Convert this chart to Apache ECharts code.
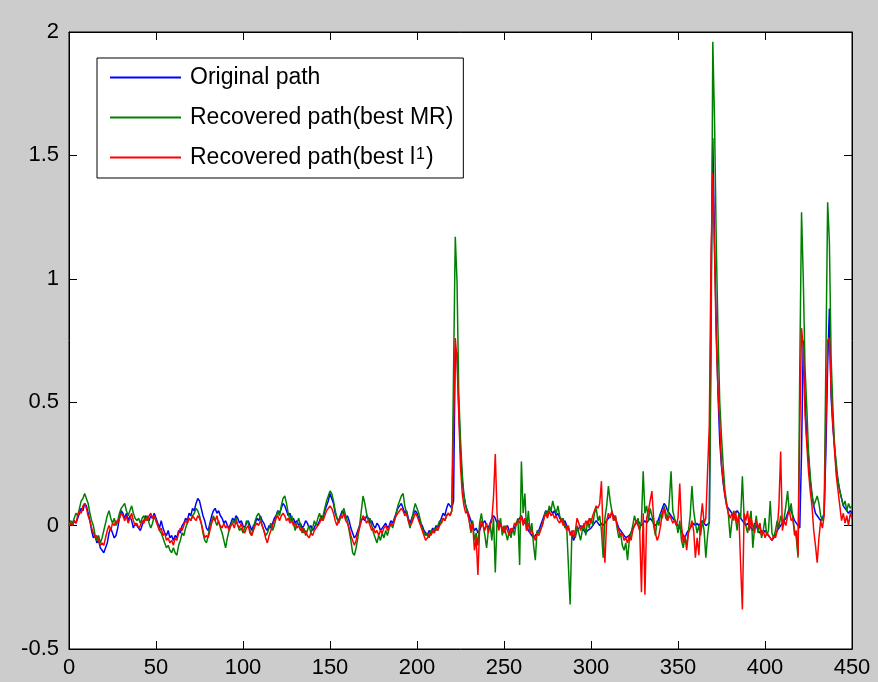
<!DOCTYPE html>
<html>
<head>
<meta charset="utf-8">
<title>Original and recovered paths</title>
<script src="https://cdn.jsdelivr.net/npm/echarts@6/dist/echarts.min.js"></script>
<style>
  html, body { margin: 0; padding: 0; background: #cccccc; }
  #chart { width: 878px; height: 682px; }
</style>
</head>
<body>
<div id="chart"></div>
<script>
// Sample values, one per step (step index = position on the x axis, 0..450)
const originalPath = [
  0.00,0.01,0.00,0.02,0.01,0.03,0.05,0.07,0.06,0.09,
  0.08,0.05,0.02,-0.02,-0.05,-0.04,-0.07,-0.06,-0.09,-0.10,
  -0.11,-0.09,-0.07,-0.03,-0.01,-0.03,-0.05,-0.04,-0.01,0.03,
  0.06,0.05,0.03,0.05,0.02,0.04,0.02,-0.01,0.01,0.00,
  -0.01,-0.02,0.00,0.02,0.04,0.03,0.02,0.04,0.03,0.05,
  0.03,0.01,-0.01,0.02,-0.01,-0.03,-0.04,-0.02,-0.05,-0.04,
  -0.06,-0.04,-0.05,-0.02,-0.03,0.00,0.01,0.03,0.02,0.05,
  0.04,0.07,0.06,0.09,0.11,0.10,0.07,0.04,0.02,-0.01,
  -0.02,0.01,0.04,0.06,0.07,0.05,0.06,0.04,0.03,0.01,
  0.02,0.00,-0.01,0.01,0.03,0.02,0.04,0.03,0.01,0.02,
  0.00,-0.01,0.01,0.02,0.00,-0.02,0.00,0.01,0.03,0.02,
  0.04,0.02,0.01,-0.01,-0.02,0.00,-0.01,0.01,0.03,0.04,
  0.06,0.05,0.07,0.09,0.08,0.06,0.04,0.05,0.02,0.03,
  0.01,0.02,0.00,0.01,-0.01,0.00,0.02,0.01,-0.01,0.00,
  -0.02,-0.01,0.01,0.00,0.02,0.04,0.03,0.06,0.08,0.10,
  0.13,0.11,0.09,0.05,0.03,0.02,0.04,0.06,0.05,0.03,
  0.04,0.02,-0.01,-0.03,-0.05,-0.04,-0.02,0.00,0.02,0.03,
  0.02,0.04,0.03,0.01,0.02,0.00,-0.01,0.01,0.00,-0.02,
  -0.01,0.00,0.01,-0.01,0.00,0.02,0.01,0.03,0.05,0.07,
  0.08,0.09,0.07,0.05,0.06,0.03,0.01,0.03,0.05,0.06,
  0.05,0.03,0.01,0.00,-0.02,-0.03,-0.04,-0.02,-0.03,-0.01,
  -0.02,0.00,-0.01,0.01,0.03,0.05,0.04,0.07,0.09,0.08,
  0.07,0.10,0.72,0.70,0.48,0.30,0.18,0.12,0.08,0.06,
  0.04,0.02,0.00,-0.02,-0.01,-0.03,-0.02,0.00,0.01,0.02,
  0.00,-0.01,0.01,0.03,0.04,0.03,0.01,0.02,0.00,-0.01,
  -0.02,-0.01,0.00,-0.02,-0.03,-0.02,-0.01,0.01,0.02,0.03,
  0.04,0.02,0.01,0.00,-0.02,-0.03,-0.04,-0.05,-0.04,-0.03,
  -0.02,0.00,0.02,0.04,0.06,0.05,0.07,0.06,0.05,0.06,
  0.04,0.05,0.03,0.02,0.01,0.02,0.00,-0.01,-0.03,-0.04,
  -0.06,-0.04,-0.02,-0.01,0.00,-0.01,-0.02,-0.03,-0.02,-0.02,
  -0.01,0.00,0.01,0.02,0.01,0.00,0.01,0.00,0.01,0.02,
  0.03,0.04,0.05,0.05,0.03,0.01,-0.01,-0.02,-0.03,-0.04,
  -0.05,-0.05,-0.04,-0.03,-0.01,0.00,0.01,0.02,0.01,0.00,
  0.01,0.02,0.01,0.02,0.03,0.02,0.01,0.00,0.01,0.03,
  0.05,0.07,0.09,0.08,0.06,0.05,0.04,0.03,0.02,0.01,
  0.00,-0.01,-0.02,-0.04,-0.05,-0.03,-0.02,-0.01,0.00,0.01,
  0.00,0.01,0.00,0.01,0.02,0.01,0.00,0.00,0.01,0.95,
  1.57,1.15,0.80,0.53,0.34,0.24,0.17,0.12,0.08,0.07,
  0.06,0.05,0.04,0.05,0.06,0.05,0.03,0.02,0.01,0.00,
  0.01,0.00,-0.01,-0.02,0.01,0.00,-0.02,-0.03,-0.02,-0.03,
  -0.02,-0.03,-0.04,-0.05,-0.06,-0.05,-0.04,-0.02,-0.02,0.00,
  0.01,0.02,0.03,0.05,0.07,0.06,0.04,0.02,0.01,0.00,
  -0.01,0.30,0.75,0.52,0.35,0.28,0.18,0.12,0.08,0.05,
  0.04,0.03,0.02,0.03,0.05,0.30,0.65,0.88,0.52,0.40,
  0.32,0.22,0.18,0.14,0.11,0.08,0.07,0.06,0.05,0.06,
  0.05
];

const recoveredMR = [
  0.00,0.02,0.01,0.03,0.05,0.04,0.07,0.10,0.11,0.13,
  0.13,0.09,0.05,0.02,0.00,-0.04,-0.06,-0.04,-0.07,-0.05,
  -0.02,0.01,0.04,0.06,0.03,0.01,0.03,0.00,0.02,0.05,
  0.07,0.08,0.09,0.06,0.04,0.06,0.08,0.05,0.03,0.02,
  0.03,0.01,0.03,0.04,0.02,0.04,0.01,-0.01,0.01,0.04,
  0.02,0.00,-0.02,-0.03,-0.05,-0.07,-0.09,-0.08,-0.10,-0.11,
  -0.09,-0.11,-0.12,-0.08,-0.06,-0.03,-0.04,-0.01,0.01,0.03,
  0.02,0.04,0.05,0.07,0.06,0.04,0.01,-0.03,-0.06,-0.07,
  -0.04,0.00,0.02,0.04,0.02,0.00,0.02,-0.01,-0.03,-0.06,
  -0.09,-0.05,-0.02,0.00,0.02,0.01,0.03,0.00,-0.02,-0.01,
  -0.03,-0.01,0.02,0.01,-0.02,-0.04,-0.01,0.02,0.04,0.05,
  0.03,0.00,-0.02,-0.04,-0.03,-0.01,0.01,-0.02,0.00,0.03,
  0.06,0.04,0.08,0.11,0.12,0.09,0.05,0.02,0.04,0.01,
  -0.02,0.01,0.03,0.00,-0.03,-0.01,-0.04,-0.02,0.00,-0.03,
  -0.01,0.02,0.00,0.03,0.05,0.02,0.04,0.07,0.10,0.12,
  0.14,0.13,0.10,0.06,0.03,0.01,0.03,0.05,0.07,0.04,
  0.02,-0.02,-0.06,-0.11,-0.12,-0.09,-0.05,0.00,0.06,0.12,
  0.09,0.05,0.02,0.03,0.00,-0.03,-0.05,-0.07,-0.04,-0.06,
  -0.03,-0.05,-0.02,-0.04,-0.01,0.01,-0.01,0.02,0.05,0.08,
  0.10,0.12,0.13,0.08,0.05,0.02,-0.01,0.02,0.06,0.09,
  0.09,0.05,0.02,-0.01,-0.03,-0.04,-0.03,-0.05,-0.02,-0.03,
  -0.01,-0.02,0.00,0.02,0.01,0.03,0.02,0.04,0.05,0.04,
  0.06,0.62,1.17,0.99,0.53,0.35,0.21,0.12,0.08,0.05,
  0.02,-0.03,0.02,-0.06,-0.03,-0.08,0.01,0.05,0.00,-0.04,
  -0.09,-0.02,0.01,-0.06,0.03,-0.19,0.02,-0.01,0.03,-0.04,
  0.00,-0.03,-0.06,-0.02,-0.05,-0.01,-0.04,0.01,0.03,-0.16,
  0.26,0.05,0.13,-0.02,0.06,-0.03,0.01,-0.08,-0.14,-0.02,
  -0.03,-0.01,0.00,0.03,0.06,0.04,0.08,0.06,0.10,0.07,
  0.05,0.08,0.04,0.02,0.03,-0.01,0.00,-0.16,-0.32,-0.03,
  -0.02,-0.05,0.00,-0.03,-0.06,-0.02,0.01,-0.04,0.02,-0.01,
  0.03,0.00,0.05,0.07,0.02,0.04,-0.02,-0.13,0.03,0.08,
  0.16,0.10,0.06,0.02,0.04,-0.01,-0.05,-0.03,-0.08,-0.10,
  -0.07,-0.14,-0.06,-0.03,0.00,0.04,0.01,0.03,-0.02,0.02,
  0.22,0.05,0.08,0.02,0.07,0.04,0.00,-0.04,0.02,0.00,
  0.05,0.03,0.08,0.05,0.02,0.10,0.22,0.06,0.03,0.01,
  -0.03,0.02,-0.06,-0.09,-0.05,-0.08,-0.02,0.04,0.16,0.06,
  0.01,-0.03,0.00,-0.04,0.02,-0.02,-0.13,-0.04,0.02,0.68,
  1.96,1.64,1.14,0.78,0.50,0.36,0.24,0.14,0.09,0.04,
  -0.05,0.02,0.06,0.03,-0.02,0.05,0.03,0.20,0.03,0.00,
  -0.03,0.02,0.06,-0.09,-0.01,0.04,-0.03,0.01,-0.05,-0.02,
  0.03,-0.04,-0.02,0.10,-0.03,-0.05,-0.02,0.02,-0.01,0.04,
  0.01,0.03,0.08,0.14,0.05,0.09,0.03,-0.02,-0.05,-0.13,
  0.65,1.27,1.00,0.64,0.48,0.30,0.20,0.13,0.08,0.10,
  0.12,0.09,0.04,0.02,0.05,0.68,1.31,1.15,0.68,0.48,
  0.32,0.25,0.18,0.14,0.11,0.08,0.10,0.06,0.09,0.07,
  0.08
];

const recoveredL1 = [
  0.00,0.01,0.00,0.02,0.01,0.04,0.06,0.05,0.08,0.09,
  0.07,0.04,0.02,-0.01,-0.03,-0.05,-0.04,-0.06,-0.08,-0.07,
  -0.08,-0.05,-0.02,0.00,-0.02,0.01,0.00,0.02,0.01,0.03,
  0.05,0.04,0.02,0.04,0.01,0.03,0.05,0.02,0.00,0.01,
  -0.01,0.00,0.02,0.01,0.03,0.02,0.04,0.05,0.03,0.04,
  0.02,0.00,-0.02,-0.01,-0.04,-0.03,-0.06,-0.05,-0.07,-0.06,
  -0.08,-0.05,-0.06,-0.03,-0.01,-0.02,0.00,0.02,0.01,0.03,
  0.02,0.04,0.03,0.02,0.04,0.03,0.01,-0.02,-0.05,-0.04,
  -0.05,-0.02,0.01,0.03,0.02,0.04,0.01,0.00,-0.01,0.01,
  -0.01,0.00,-0.02,0.00,0.01,-0.01,0.02,0.00,-0.01,0.01,
  -0.02,-0.03,-0.01,0.00,-0.03,-0.04,-0.02,0.00,0.01,0.00,
  0.02,0.00,-0.02,-0.05,-0.07,-0.04,-0.02,0.00,0.02,0.03,
  0.04,0.02,0.04,0.05,0.04,0.02,0.03,0.01,0.02,0.00,
  0.01,-0.01,0.00,-0.02,-0.01,-0.03,-0.02,-0.04,-0.05,-0.03,
  -0.04,-0.02,-0.01,0.00,0.01,0.03,0.02,0.04,0.06,0.07,
  0.08,0.07,0.05,0.02,0.00,0.02,0.04,0.03,0.05,0.02,
  0.01,-0.01,-0.04,-0.06,-0.08,-0.06,-0.03,-0.01,0.02,0.04,
  0.03,0.01,0.02,0.00,-0.02,-0.01,-0.03,-0.02,-0.04,-0.02,
  -0.03,-0.01,0.00,-0.02,-0.01,0.01,0.00,0.02,0.04,0.05,
  0.06,0.07,0.06,0.04,0.05,0.02,0.00,0.01,0.03,0.05,
  0.04,0.02,0.00,-0.02,-0.04,-0.06,-0.05,-0.03,-0.04,-0.02,
  -0.03,-0.01,-0.02,0.00,0.01,0.03,0.02,0.04,0.05,0.04,
  0.06,0.40,0.76,0.67,0.45,0.24,0.13,0.08,0.05,0.06,
  0.02,-0.02,0.01,-0.10,-0.05,-0.20,-0.01,0.02,0.00,-0.02,
  0.01,-0.03,0.00,0.02,0.12,0.29,0.05,-0.02,0.01,-0.01,
  -0.03,0.00,-0.02,-0.04,-0.01,-0.02,0.01,0.00,0.02,0.01,
  0.04,0.00,0.03,-0.02,0.01,-0.03,-0.02,-0.04,-0.06,-0.03,
  -0.04,-0.02,0.00,0.03,0.05,0.03,0.06,0.04,0.05,0.03,
  0.04,0.02,0.01,0.03,0.00,0.01,-0.02,0.00,-0.04,-0.02,
  -0.05,-0.02,0.03,0.01,-0.02,0.00,-0.01,0.02,0.00,0.03,
  0.01,0.04,0.06,0.08,0.07,0.09,0.18,-0.05,-0.15,0.02,
  0.05,0.03,0.06,0.02,0.04,0.00,-0.02,-0.04,-0.03,-0.06,
  -0.05,-0.07,-0.04,-0.06,-0.02,0.00,0.02,0.00,-0.02,-0.27,
  0.05,-0.28,0.03,0.06,0.10,0.14,0.03,-0.03,-0.06,-0.04,
  0.00,0.05,0.07,0.03,0.02,0.04,0.03,0.01,0.02,0.00,
  0.03,0.17,0.00,-0.07,-0.04,-0.10,-0.03,-0.01,0.02,-0.02,
  -0.13,-0.05,-0.12,0.02,0.09,0.01,0.03,0.03,0.41,1.10,
  1.43,1.10,0.75,0.55,0.41,0.25,0.18,0.12,0.08,0.05,
  0.03,0.05,0.02,0.06,0.01,0.04,-0.16,-0.34,0.05,0.02,
  0.06,-0.02,0.03,0.00,-0.03,0.02,-0.01,0.01,-0.04,-0.02,
  -0.05,-0.03,-0.04,-0.05,-0.06,-0.04,-0.05,-0.02,0.08,0.30,
  -0.02,0.02,0.00,0.04,0.06,0.02,0.03,-0.04,-0.02,-0.12,
  0.40,0.80,0.72,0.45,0.33,0.22,0.14,0.08,-0.02,-0.08,
  -0.15,-0.05,0.02,-0.01,0.04,0.41,0.75,0.76,0.55,0.41,
  0.30,0.20,0.14,0.08,0.02,0.05,0.01,0.04,0.00,0.05,
  0.03
];

const seriesNames = ['Original path', 'Recovered path(best MR)', 'Recovered path(best l1)'];
const seriesColors = ['#0000ff', '#008000', '#ff0000'];

const X_MIN = 0, X_MAX = 450, X_STEP = 50;
const Y_MIN = -0.5, Y_MAX = 2, Y_STEP = 0.5;

const FONT = '"Liberation Sans", Arial, sans-serif';

function toPoints(values) {
  return values.map((v, i) => [i, v]);
}

const chart = echarts.init(document.getElementById('chart'), null, { renderer: 'canvas' });

const tickStyle = { show: true, inside: true, length: 8, lineStyle: { color: '#000', width: 1 } };
const lineStyle = { show: true, onZero: false, lineStyle: { color: '#000', width: 1 } };

chart.setOption({
  animation: false,
  backgroundColor: '#cccccc',
  grid: {
    left: 69, right: 26, top: 32, bottom: 33,
    show: true, backgroundColor: '#ffffff', borderColor: '#000', borderWidth: 1,
    containLabel: false
  },
  xAxis: [
    {
      type: 'value', position: 'bottom', min: X_MIN, max: X_MAX, interval: X_STEP,
      axisLine: lineStyle, axisTick: tickStyle, splitLine: { show: false },
      axisLabel: { color: '#000', fontSize: 22, fontFamily: FONT, margin: 8 }
    },
    {
      type: 'value', position: 'top', min: X_MIN, max: X_MAX, interval: X_STEP,
      axisLine: lineStyle, axisTick: tickStyle, splitLine: { show: false },
      axisLabel: { show: false }
    }
  ],
  yAxis: [
    {
      type: 'value', position: 'left', min: Y_MIN, max: Y_MAX, interval: Y_STEP,
      axisLine: lineStyle, axisTick: tickStyle, splitLine: { show: false },
      axisLabel: { color: '#000', fontSize: 22, fontFamily: FONT, margin: 10 }
    },
    {
      type: 'value', position: 'right', min: Y_MIN, max: Y_MAX, interval: Y_STEP,
      axisLine: lineStyle, axisTick: tickStyle, splitLine: { show: false },
      axisLabel: { show: false }
    }
  ],
  legend: {
    orient: 'vertical',
    left: 97, top: 58,
    padding: [8, 10, 9, 13],
    itemGap: 17,
    itemWidth: 71, itemHeight: 2,
    icon: 'rect',
    backgroundColor: '#ffffff',
    borderColor: '#000', borderWidth: 1, borderRadius: 0,
    selectedMode: false,
    data: seriesNames,
    // "l1" in the third entry is l-one with the 1 set as a superscript
    formatter: function (name) {
      if (name === seriesNames[2]) {
        return '{t|Recovered path(best l}{s|1}{t|)}';
      }
      return '{t|' + name + '}';
    },
    textStyle: {
      color: '#000', fontSize: 23, fontFamily: FONT, lineHeight: 22,
      padding: [0, 0, 0, 4],
      rich: {
        t: { color: '#000', fontSize: 23, fontFamily: FONT, lineHeight: 22 },
        s: { color: '#000', fontSize: 16, fontFamily: FONT, lineHeight: 6, verticalAlign: 'top', padding: [0, 1, 0, 1] }
      }
    }
  },
  series: [0, 1, 2].map(function (k) {
    const data = [originalPath, recoveredMR, recoveredL1][k];
    return {
      name: seriesNames[k],
      type: 'line',
      xAxisIndex: 0, yAxisIndex: 0,
      data: toPoints(data),
      showSymbol: false,
      symbol: 'none',
      clip: true,
      itemStyle: { color: seriesColors[k] },
      lineStyle: { color: seriesColors[k], width: 1.5 },
      z: 2 + k
    };
  })
});
</script>
</body>
</html>
